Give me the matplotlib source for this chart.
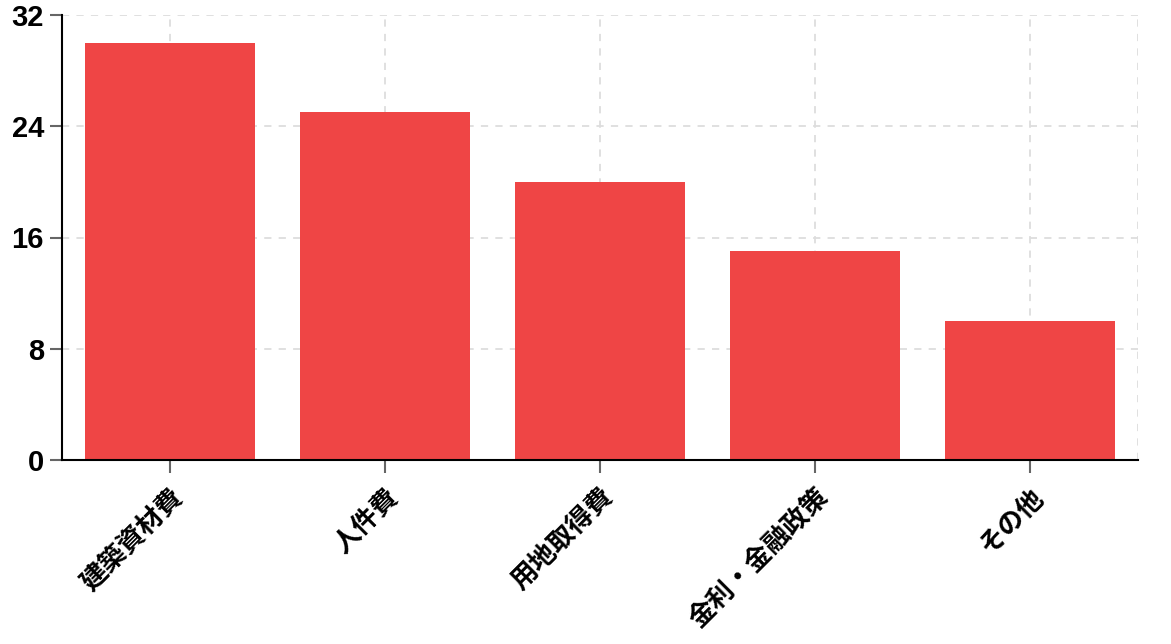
import matplotlib

matplotlib.use("Agg")
import matplotlib.pyplot as plt

categories = ["建築資材費", "人件費", "用地取得費", "金利・金融政策", "その他"]
values = [30, 25, 20, 15, 10]
y_ticks = [0, 8, 16, 24, 32]

BAR_COLOR = "#ef4545"
GRID_COLOR = "#dddddd"
TICK_COLOR = "#666666"

plt.rcParams["font.family"] = ["Liberation Sans", "Noto Sans CJK JP", "DejaVu Sans"]

fig = plt.figure(figsize=(11.71, 6.44), dpi=100)
ax = fig.add_axes([62 / 1171, 1 - 460 / 644, (1138 - 62) / 1171, (460 - 15) / 644])

x = list(range(len(categories)))
ax.bar(x, values, width=0.79, color=BAR_COLOR, zorder=3)

ax.set_xlim(-0.5, len(categories) - 0.5)
ax.set_ylim(0, 32)
ax.set_yticks(y_ticks)
ax.set_xticks(x)
ax.set_yticklabels([str(t) for t in y_ticks], fontsize=21, fontweight="bold")
ax.set_xticklabels(categories, rotation=45, ha="right", rotation_mode="anchor",
                   fontsize=19, fontweight="bold", family=["Noto Sans CJK JP", "DejaVu Sans"])

ax.grid(True, color=GRID_COLOR, linestyle=(0, (4, 4)), linewidth=1.3, zorder=0)
ax.axvline(len(categories) - 0.5, color=GRID_COLOR, linestyle=(0, (4, 4)), linewidth=1.3, zorder=0)

for spine in ("top", "right"):
    ax.spines[spine].set_visible(False)
for spine in ("left", "bottom"):
    ax.spines[spine].set_color("black")
    ax.spines[spine].set_linewidth(1.5)
    ax.spines[spine].set_zorder(4)

ax.tick_params(axis="both", length=9, width=1.5, color=TICK_COLOR, labelcolor="black")
ax.tick_params(axis="y", pad=4)
ax.tick_params(axis="x", pad=8)

fig.savefig("out.png", dpi=100, facecolor="white")
